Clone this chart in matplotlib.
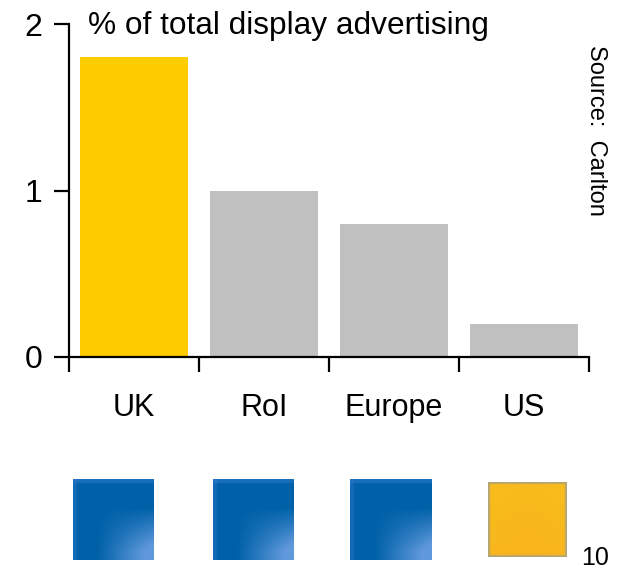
import numpy as np
import matplotlib
matplotlib.use("Agg")
import matplotlib.pyplot as plt

categories = ["UK", "RoI", "Europe", "US"]
values = [1.8, 1.0, 0.8, 0.2]
bar_colors = ["#FFCC00", "#C0C0C0", "#C0C0C0", "#C0C0C0"]
yticks = [0, 1, 2]
title = "% of total display advertising"
source = "Source:  Carlton"
page = "10"

plt.rcParams['font.family'] = ['Liberation Sans', 'DejaVu Sans']

W, H = 621, 571
fig = plt.figure(figsize=(W / 100, H / 100), dpi=100)

def rect(x0, y0, x1, y1):
    return [x0 / W, 1 - y1 / H, (x1 - x0) / W, (y1 - y0) / H]

ax = fig.add_axes(rect(69, 24, 589, 357))
x = np.arange(len(categories))
ax.bar(x, values, width=0.83, color=bar_colors, zorder=1)
ax.set_xlim(-0.5, len(categories) - 0.5)
ax.set_ylim(0, 2)
for s in ["top", "right"]:
    ax.spines[s].set_visible(False)
for s in ["left", "bottom"]:
    ax.spines[s].set_linewidth(1.6)
    ax.spines[s].set_color("black")
    ax.spines[s].set_zorder(3)
ax.set_yticks(yticks)
ax.set_yticklabels([str(v) for v in yticks], fontsize=23)
ax.tick_params(axis="y", direction="out", length=11, width=1.6, pad=8)
ax.set_xticks(np.arange(len(categories) + 1) - 0.5)
ax.set_xticklabels([])
ax.set_xticks(x, minor=True)
ax.set_xticklabels(categories, minor=True, fontsize=22)
ax.tick_params(axis="x", which="major", direction="out", length=11, width=1.6)
ax.tick_params(axis="x", which="minor", length=0, pad=26)

fig.text(88 / W, 1 - 26 / H, title, fontsize=22.8, ha="left", va="center")
fig.text(596 / W, 1 - 130 / H, source, fontsize=17, rotation=270,
         ha="center", va="center")
fig.text(595 / W, 1 - 558 / H, page, fontsize=18, ha="center", va="center")

# decorative squares
n = 40
yy, xx = np.mgrid[0:1:n * 1j, 0:1:n * 1j]
light = np.clip((xx - 0.3) * 1.3, 0, 1) * np.clip((yy - 0.35) * 1.8, 0, 1)
light = np.clip(light * 1.3, 0, 1)
dark_blue = np.array([0.0, 0.38, 0.66])
light_blue = np.array([0.38, 0.60, 0.86])
blue_img = dark_blue[None, None, :] * (1 - light[..., None]) + light_blue[None, None, :] * light[..., None]
blue_img[:2, :, :] = blue_img[:2, :, :] * 0.6 + np.array([0.25, 0.5, 0.85]) * 0.4
blue_img[:, :2, :] = blue_img[:, :2, :] * 0.7 + np.array([0.25, 0.5, 0.85]) * 0.3

g = np.clip(0.5 + 0.3 * (yy - 0.5) - 0.2 * np.abs(xx - 0.5), 0, 1)
gold_a = np.array([0.98, 0.76, 0.10])
gold_b = np.array([0.97, 0.68, 0.12])
gold_img = gold_a[None, None, :] * (1 - g[..., None]) + gold_b[None, None, :] * g[..., None]
edge = np.array([0.70, 0.65, 0.45])
gold_img[0, :, :] = edge
gold_img[-1, :, :] = edge
gold_img[:, 0, :] = edge
gold_img[:, -1, :] = edge

squares = [(73, 479, 154, 560, blue_img), (213, 479, 294, 560, blue_img),
           (350, 479, 431, 560, blue_img), (488, 482, 567, 557, gold_img)]
for x0, y0, x1, y1, img in squares:
    a = fig.add_axes(rect(x0, y0, x1, y1))
    a.imshow(img, aspect="auto", interpolation="bilinear")
    a.axis("off")

fig.savefig("out.png", dpi=100)
